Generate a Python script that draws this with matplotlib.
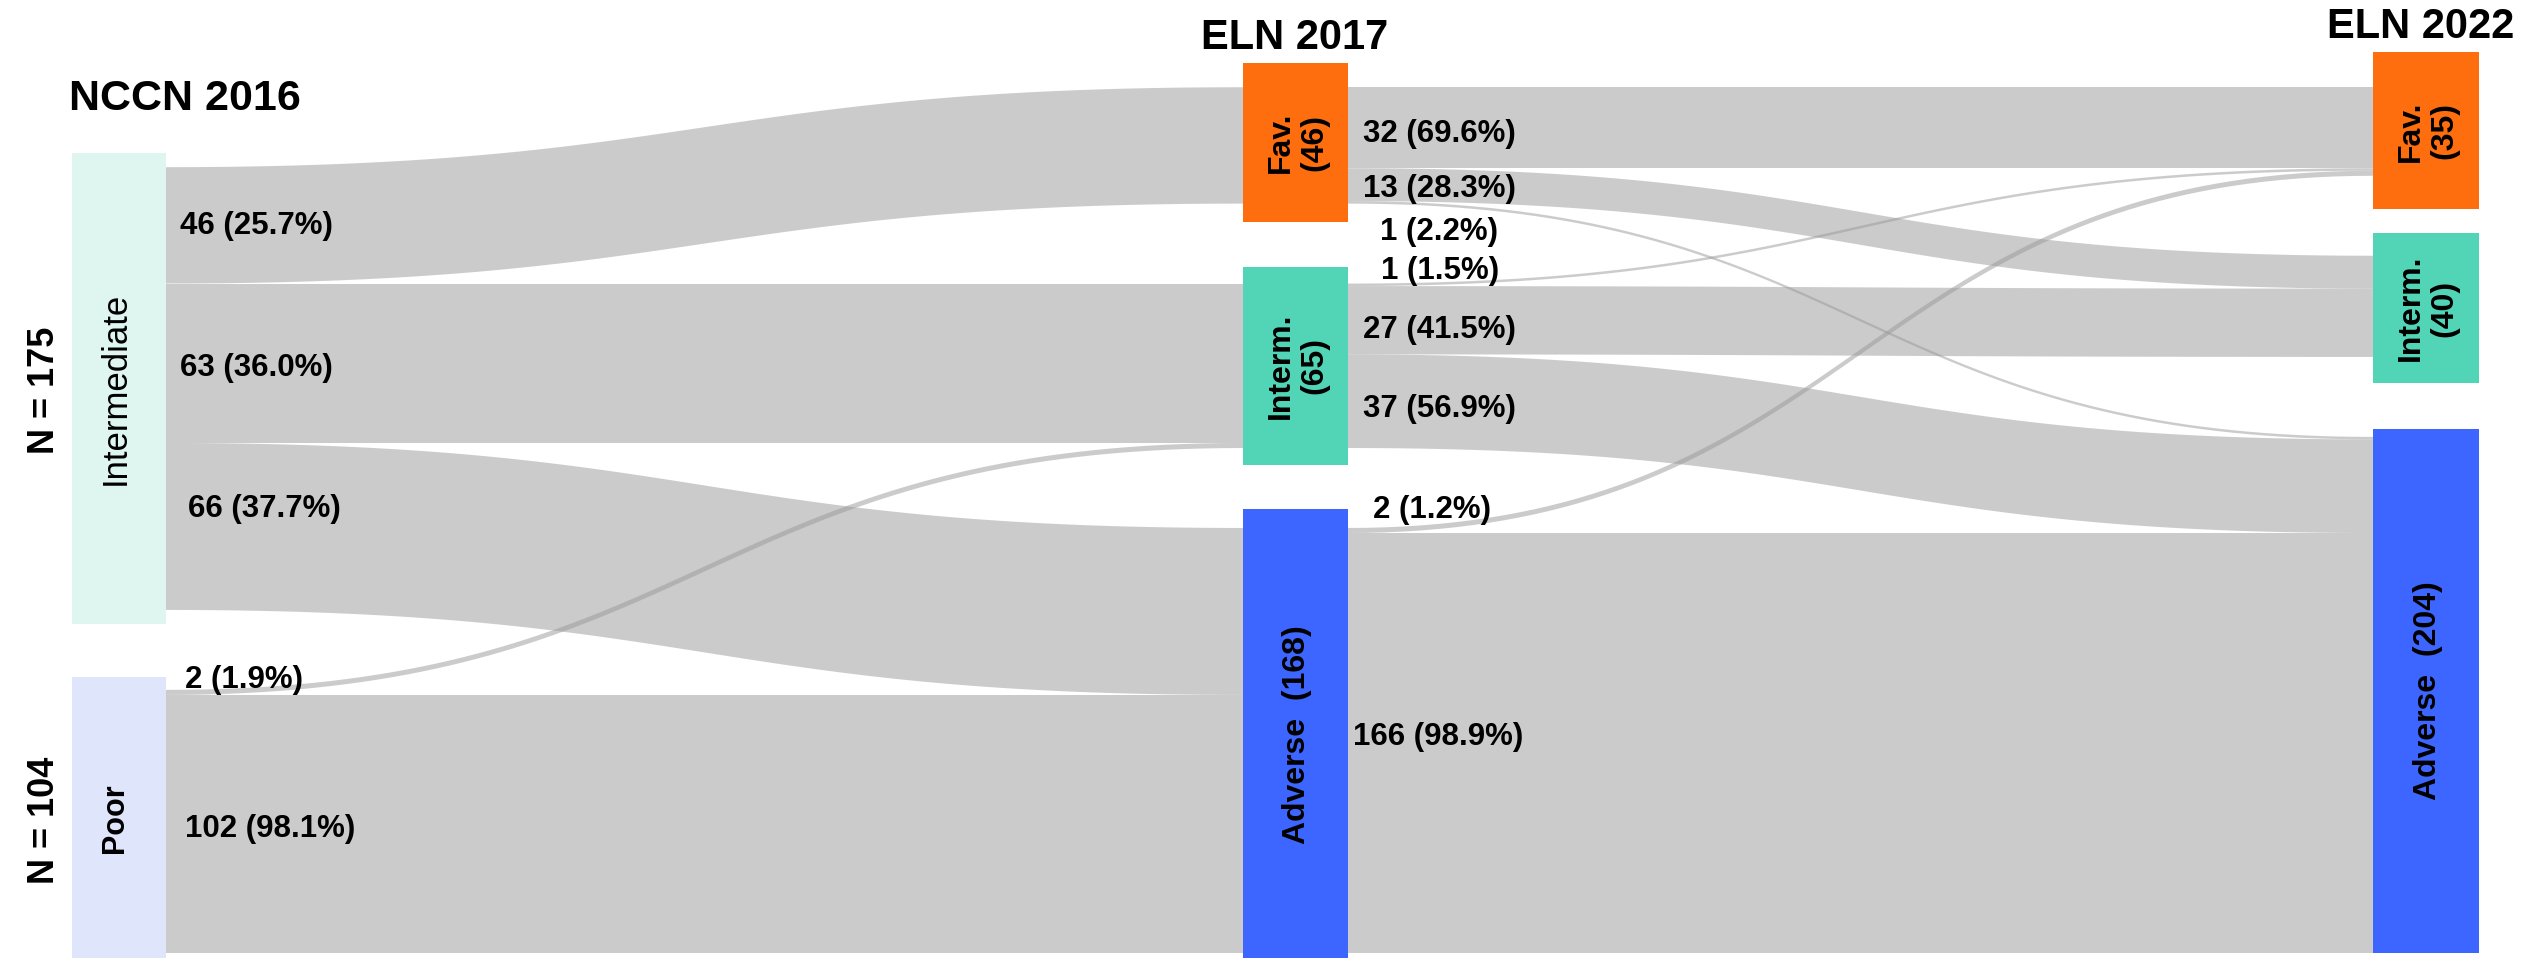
import numpy as np
import matplotlib.pyplot as plt
from matplotlib.patches import Rectangle

plt.rcParams['font.family'] = ['Liberation Sans', 'DejaVu Sans']

# data
col1_names = ['Intermediate', 'Poor']
col1_n = [175, 104]
col2_names = ['Fav.', 'Interm.', 'Adverse']
col2_n = [46, 65, 168]
col3_names = ['Fav.', 'Interm.', 'Adverse']
col3_n = [35, 40, 204]
titles = ['NCCN 2016', 'ELN 2017', 'ELN 2022']

# NCCN 2016 -> ELN 2017
f12_src = [0, 0, 0, 1, 1]
f12_dst = [0, 1, 2, 1, 2]
f12_val = [46, 63, 66, 2, 102]
f12_pct = [25.7, 36.0, 37.7, 1.9, 98.1]

# ELN 2017 -> ELN 2022
f23_src = [0, 0, 0, 1, 1, 1, 2, 2]
f23_dst = [0, 1, 2, 0, 1, 2, 0, 2]
f23_val = [32, 13, 1, 1, 27, 37, 2, 166]
f23_pct = [69.6, 28.3, 2.2, 1.5, 41.5, 56.9, 1.2, 98.9]

# layout (pixels for x, patients for y)
W, H = 2524, 958
S = 2.53          # px per patient
BASE = 953        # px row of the stack bottom
GAP = 31.6        # gap between nodes, in patients


def py(px):
    return (BASE - px) / S


def stack(counts):
    pos = []
    y = 0.0
    for c in reversed(counts):
        pos.append((y, y + c))
        y += c + GAP
    return pos[::-1]


cols = [
    dict(names=col1_names, n=col1_n, x=72, w=94,
         colors=['#DEF5F0', '#DFE6FB'],
         pad=[(5.5, 5.5), (5.1, 2.5)]),
    dict(names=col2_names, n=col2_n, x=1243, w=105,
         colors=['#FF6E0E', '#52D5B6', '#3D65FF'],
         pad=[(9.5, 7.1), (6.7, 6.7), (7.5, 2.5)]),
    dict(names=col3_names, n=col3_n, x=2373, w=106,
         colors=['#FF6E0E', '#52D5B6', '#3D65FF'],
         pad=[(13.8, 13.2), (9.0, 10.3), (3.2, 0.0)]),
]
for c in cols:
    c['pos'] = stack(c['n'])

fig = plt.figure(figsize=(W / 100, H / 100), dpi=100)
ax = fig.add_axes([0, 0, 1, 1])
ax.set_xlim(0, W)
ax.set_ylim(py(H), py(0))
ax.axis('off')

t = np.linspace(0, 1, 80)


def bez(x0, y0, x1, y1):
    xm = (x0 + x1) / 2
    xs = (1 - t) ** 3 * x0 + 3 * (1 - t) ** 2 * t * xm + 3 * (1 - t) * t ** 2 * xm + t ** 3 * x1
    ys = (1 - t) ** 3 * y0 + 3 * (1 - t) ** 2 * t * y0 + 3 * (1 - t) * t ** 2 * y1 + t ** 3 * y1
    return xs, ys


def draw_flows(ca, cb, src, dst, val, pct, nudges):
    out_cur = [p[1] for p in ca['pos']]
    in_cur = [p[1] for p in cb['pos']]
    x0 = ca['x'] + ca['w']
    x1 = cb['x']
    for i, (s, d, v, p) in enumerate(zip(src, dst, val, pct)):
        a_top, a_bot = out_cur[s], out_cur[s] - v
        b_top, b_bot = in_cur[d], in_cur[d] - v
        out_cur[s] = a_bot
        in_cur[d] = b_bot
        xt, yt = bez(x0, a_top, x1, b_top)
        xb, yb = bez(x0, a_bot, x1, b_bot)
        ax.fill(np.r_[xt, xb[::-1]], np.r_[yt, yb[::-1]],
                color='#999999', alpha=0.5, lw=0, zorder=1)
        dx, dy = nudges[i]
        ax.text(x0 + dx, (a_top + a_bot) / 2 - dy / S, f'{v} ({p:.1f}%)',
                ha='left', va='center', fontsize=22.5, fontweight='bold',
                zorder=4)


# label nudges in px (dx from node edge, dy downwards)
draw_flows(cols[0], cols[1], f12_src, f12_dst, f12_val, f12_pct,
           [(14, 1), (14, 5), (22, -17), (19, -12), (19, 5)])
draw_flows(cols[1], cols[2], f23_src, f23_dst, f23_val, f23_pct,
           [(15, 6), (15, 4), (32, 30), (33, -14), (15, 10), (15, 8), (25, -20), (5, -6)])

# nodes
for ci, c in enumerate(cols):
    for k, ((b, tp), col) in enumerate(zip(c['pos'], c['colors'])):
        pt, pb = c['pad'][k]
        y0 = b - pb
        ax.add_patch(Rectangle((c['x'], y0), c['w'], tp + pt - y0,
                               facecolor=col, edgecolor='none', zorder=3))
        cx = c['x'] + c['w'] / 2
        cy = (y0 + tp + pt) / 2
        name, n = c['names'][k], c['n'][k]
        if ci == 0:
            ax.text(cx - 4, cy, name, rotation=90, ha='center', va='center',
                    fontsize=25 if k == 0 else 22,
                    fontweight='normal' if k == 0 else 'bold', zorder=4)
            ax.text(44, cy - 2 / S, f'N = {n}', rotation=90, ha='center',
                    va='center', fontsize=26, fontweight='bold', zorder=4)
        else:
            sep = '  ' if name == 'Adverse' else '\n'
            ax.text(cx + 2, cy, f'{name}{sep}({n})', rotation=90,
                    ha='center', va='center', fontsize=23, fontweight='bold',
                    linespacing=1.15, multialignment='center', zorder=4)

# column titles
ax.text(185, py(99), titles[0], ha='center', va='center',
        fontsize=31, fontweight='bold')
ax.text(1295, py(38), titles[1], ha='center', va='center',
        fontsize=30, fontweight='bold')
ax.text(2421, py(27), titles[2], ha='center', va='center',
        fontsize=30, fontweight='bold')

fig.savefig('out.png', dpi=100, facecolor='white')
